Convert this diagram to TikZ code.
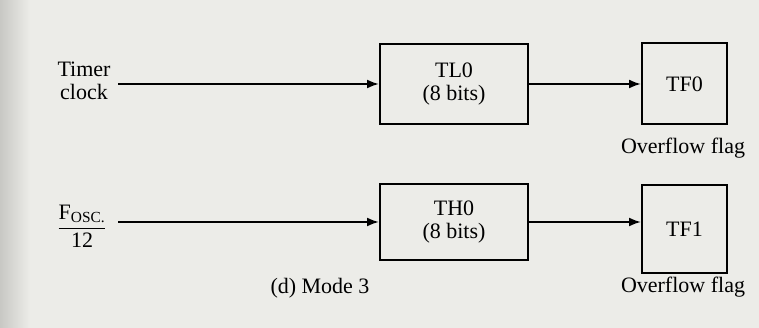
\documentclass[tikz,border=0pt]{standalone}
\usepackage{fontspec}
\setmainfont{Liberation Serif}
\usetikzlibrary{arrows.meta}
\definecolor{paper}{RGB}{236,236,232}
\definecolor{paperdark}{RGB}{200,200,196}
\begin{document}
\begin{tikzpicture}[x=1pt,y=-1pt,
  every node/.style={font=\fontsize{22}{25}\selectfont, text=black},
  regbox/.style={draw, line width=2pt, minimum width=148pt, inner sep=0pt},
  flagbox/.style={draw, line width=2pt, minimum width=85pt, inner sep=0pt},
  feed/.style={line width=2pt, -{Latex[length=12pt,width=9pt]}}]
\shade[left color=paperdark, right color=paper, middle color=paper] (0,0) rectangle (60,328);
\fill[paper] (60,0) rectangle (759,328);
\useasboundingbox (0,0) rectangle (759,328);
% top row
\node[regbox, minimum height=80pt, align=center] (TL0) at (454,84) {TL0\\[-2pt](8 bits)};
\node[flagbox, minimum height=81pt] (TF0) at (684.5,84) {TF0};
\node[align=center] (clk) at (84,81) {Timer\\[-2pt]clock};
\coordinate (clkout) at (118,84);
\draw[feed] (clkout) -- (TL0.west);
\draw[feed] (TL0.east) -- (TF0.west);
\node (of0) at (683,148) {Overflow flag};
% bottom row
\node[regbox, minimum height=76pt, align=center] (TH0) at (454,222) {TH0\\[-2pt](8 bits)};
\node[flagbox, minimum height=88pt] (TF1) at (684.5,229) {TF1};
\node (osc) at (82,226) {$\displaystyle\frac{\mbox{F\textsubscript{OSC.}}}{\mbox{12}}$};
\coordinate (oscout) at (118,222);
\draw[feed] (oscout) -- (TH0.west);
\draw[feed] (TH0.east) -- (TH0.east -| TF1.west);
\node (of1) at (683,287) {Overflow flag};
\node (cap) at (320,288) {(d) Mode 3};
\end{tikzpicture}
\end{document}
